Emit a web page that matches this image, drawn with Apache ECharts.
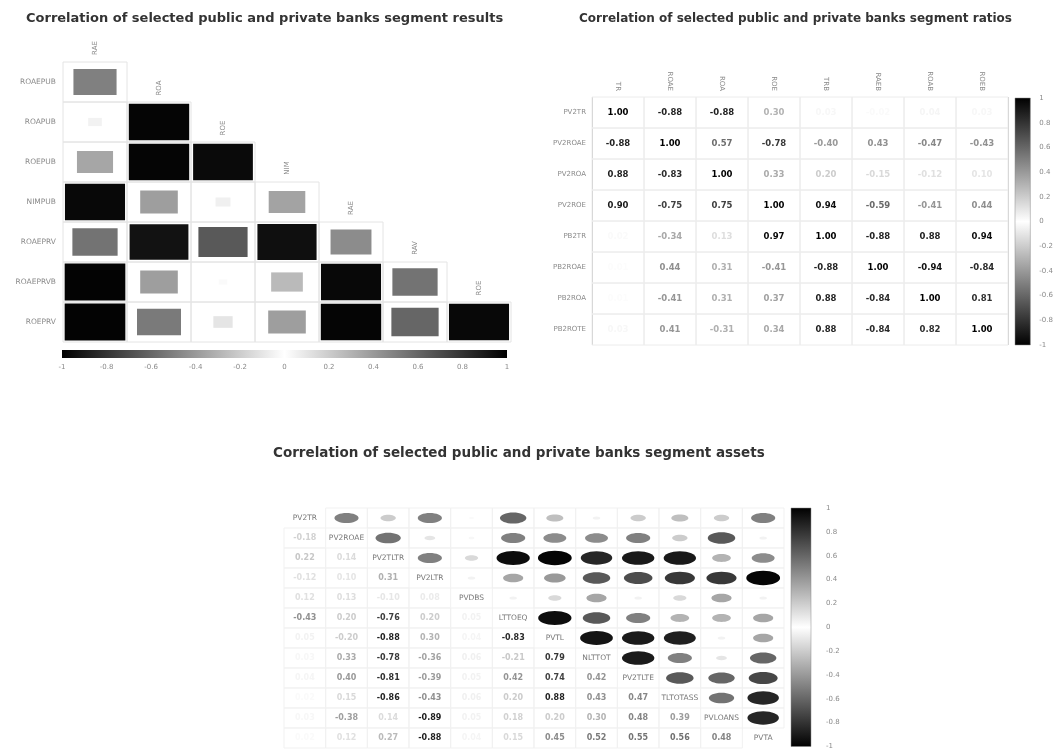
<!DOCTYPE html>
<html>
<head>
<meta charset="utf-8">
<script src="https://cdn.jsdelivr.net/npm/echarts@6/dist/echarts.min.js"></script>
<style>
  html, body { margin: 0; padding: 0; background: #ffffff; }
  #main { width: 1056px; height: 750px; }
</style>
</head>
<body>
<div id="main"></div>
<script>
// ---------- Segment results: lower-triangle square plot ----------
const retNames = ['ROAEPUB', 'ROAPUB', 'ROEPUB', 'NIMPUB', 'ROAEPRV', 'ROAEPRVB', 'ROEPRV'];
const retTags = ['RAE', 'ROA', 'ROE', 'NIM', 'RAE', 'RAV', 'ROE'];
// row i holds correlations with columns 0..i
const retCorr = [
  [0.50],
  [0.05, -0.98],
  [0.35, -0.98, 0.96],
  [-0.97, 0.38, 0.06, 0.36],
  [0.55, -0.93, 0.65, -0.94, 0.45],
  [-0.99, 0.38, 0.02, 0.27, 0.97, 0.55],
  [-0.99, 0.52, 0.10, 0.38, 0.98, 0.60, 0.97]
];

// ---------- Segment ratios: numeric matrix ----------
const ratioRows = ['PV2TR', 'PV2ROAE', 'PV2ROA', 'PV2ROE', 'PB2TR', 'PB2ROAE', 'PB2ROA', 'PB2ROTE'];
const ratioCols = ['TR', 'ROAE', 'ROA', 'ROE', 'TRB', 'RAEB', 'ROAB', 'ROEB'];
const ratioCorr = [
  [1.00, -0.88, -0.88, 0.30, 0.03, -0.02, 0.04, 0.03],
  [-0.88, 1.00, 0.57, -0.78, -0.40, 0.43, -0.47, -0.43],
  [0.88, -0.83, 1.00, 0.33, 0.20, -0.15, -0.12, 0.10],
  [0.90, -0.75, 0.75, 1.00, 0.94, -0.59, -0.41, 0.44],
  [0.02, -0.34, 0.13, 0.97, 1.00, -0.88, 0.88, 0.94],
  [0.01, 0.44, 0.31, -0.41, -0.88, 1.00, -0.94, -0.84],
  [0.01, -0.41, 0.31, 0.37, 0.88, -0.84, 1.00, 0.81],
  [0.03, 0.41, -0.31, 0.34, 0.88, -0.84, 0.82, 1.00]
];

// ---------- Segment assets: ellipses above, numbers below ----------
const assetNames = ['PV2TR', 'PV2ROAE', 'PV2TLTR', 'PV2LTR', 'PVDBS', 'LTTOEQ', 'PVTL', 'NLTTOT', 'PV2TLTE', 'TLTOTASS', 'PVLOANS', 'PVTA'];
const assetCorr = [
  [null, 0.50, 0.20, 0.50, 0.02, 0.60, 0.25, 0.05, 0.20, 0.25, -0.20, 0.50],
  [-0.18, null, 0.55, 0.10, 0.03, 0.50, -0.45, 0.45, 0.50, 0.20, 0.65, 0.05],
  [0.22, 0.14, null, 0.50, 0.15, -0.95, -0.98, -0.85, -0.90, -0.90, 0.30, 0.45],
  [-0.12, 0.10, 0.31, null, 0.05, 0.35, 0.40, -0.65, -0.70, -0.78, -0.78, -0.98],
  [0.12, 0.13, -0.10, 0.08, null, 0.05, 0.15, 0.35, 0.05, 0.15, 0.35, 0.05],
  [-0.43, 0.20, -0.76, 0.20, 0.05, null, -0.95, 0.65, 0.50, 0.30, 0.30, 0.35],
  [0.05, -0.20, -0.88, 0.30, 0.04, -0.83, null, 0.92, 0.90, 0.88, 0.05, 0.35],
  [0.03, 0.33, -0.78, -0.36, 0.06, -0.21, 0.79, null, 0.90, 0.50, 0.10, 0.60],
  [0.04, 0.40, -0.81, -0.39, 0.05, 0.42, 0.74, 0.42, null, 0.65, 0.60, 0.72],
  [0.02, 0.15, -0.86, -0.43, 0.06, 0.20, 0.88, 0.43, 0.47, null, 0.55, 0.85],
  [0.03, -0.38, 0.14, -0.89, 0.05, 0.18, 0.20, 0.30, 0.48, 0.39, null, 0.85],
  [0.02, 0.12, 0.27, -0.88, 0.04, 0.15, 0.45, 0.52, 0.55, 0.56, 0.48, null]
];
// column / row boundaries drawn as darker separators in the assets plot
const assetBreaks = [2, 3, 4, 7, 8, 11];
const assetRowBreaks = [8];

const scaleTicks = [-1, -0.8, -0.6, -0.4, -0.2, 0, 0.2, 0.4, 0.6, 0.8, 1];

// ---------- build series data ----------
const retData = [];
retCorr.forEach((row, i) => row.forEach((v, j) => retData.push([j, i + 1, v])));
const retTagData = retTags.map((t, j) => [j, j, t]);

const ratioData = [];
ratioCorr.forEach((row, i) => row.forEach((v, j) => ratioData.push([j, i, v])));

const ellipseData = [], numberData = [], diagData = [];
assetCorr.forEach((row, i) => row.forEach((v, j) => {
  if (i === j) diagData.push([j, i, assetNames[i]]);
  else if (j > i) ellipseData.push([j, i, v]);
  else numberData.push([j, i, v]);
}));

const FONT = 'DejaVu Sans';
const LABEL_GRAY = '#8a8a8a';
const barGradient = (horizontal) => ({
  type: 'linear', x: 0, y: 0, x2: horizontal ? 1 : 0, y2: horizontal ? 0 : 1,
  colorStops: [
    { offset: 0, color: '#000000' },
    { offset: 0.5, color: '#ffffff' },
    { offset: 1, color: '#000000' }
  ]
});
const fmt = (v) => v.toFixed(2);
const tickFmt = (v) => String(Math.round(v * 10) / 10);
const scaleAxisLabel = (margin) => ({
  fontFamily: FONT, fontSize: 7, color: LABEL_GRAY, margin: margin,
  formatter: (v) => scaleTicks.includes(Math.round(v * 10) / 10) ? tickFmt(v) : ''
});

const chart = echarts.init(document.getElementById('main'), null, { renderer: 'canvas' });

const option = {
  backgroundColor: '#ffffff',
  animation: false,
  title: [
    { text: 'Correlation of selected public and private banks segment results', left: 21, top: 7,
      textStyle: { fontFamily: FONT, fontSize: 13, fontWeight: 'bold', color: '#333' } },
    { text: 'Correlation of selected public and private banks segment ratios', left: 574, top: 8,
      textStyle: { fontFamily: FONT, fontSize: 12, fontWeight: 'bold', color: '#333' } },
    { text: 'Correlation of selected public and private banks segment assets', left: 268, top: 441,
      textStyle: { fontFamily: FONT, fontSize: 13.5, fontWeight: 'bold', color: '#333' } }
  ],
  visualMap: [{
    type: 'continuous', show: false, min: -1, max: 1, dimension: 2,
    seriesIndex: [0, 3, 6, 7],
    inRange: { color: ['#000000', '#ffffff', '#000000'] }
  }],
  grid: [
    { left: 63, top: 22, width: 448, height: 320 },
    { left: 62, top: 350, width: 445, height: 8 },
    { left: 592, top: 97, width: 416, height: 248 },
    { left: 1015, top: 98, width: 16, height: 247 },
    { left: 284, top: 508, width: 500, height: 240 },
    { left: 791, top: 508, width: 20, height: 240 }
  ],
  xAxis: [
    { gridIndex: 0, type: 'category', data: retTags, show: false },
    { gridIndex: 1, type: 'value', min: -1, max: 1, interval: 0.2,
      axisLine: { show: false }, axisTick: { show: false }, splitLine: { show: false },
      axisLabel: scaleAxisLabel(6) },
    { gridIndex: 2, type: 'category', data: ratioCols, position: 'top',
      axisLine: { show: false }, axisTick: { show: false },
      axisLabel: { rotate: 90, fontFamily: FONT, fontSize: 7, color: LABEL_GRAY, margin: 6 },
      splitLine: { show: true, interval: (i) => i === 3, lineStyle: { color: '#c4c4c4', width: 1 } } },
    { gridIndex: 3, type: 'category', data: ['scale'], show: false },
    { gridIndex: 4, type: 'category', data: assetNames, show: false,
      splitLine: { show: true, interval: (i) => assetBreaks.includes(i), lineStyle: { color: '#c8c8c8', width: 1 } } },
    { gridIndex: 5, type: 'category', data: ['scale'], show: false }
  ],
  yAxis: [
    { gridIndex: 0, type: 'category', inverse: true, data: [''].concat(retNames),
      axisLine: { show: false }, axisTick: { show: false },
      axisLabel: { fontFamily: FONT, fontSize: 7.5, color: LABEL_GRAY, margin: 7 } },
    { gridIndex: 1, type: 'category', data: ['scale'], show: false },
    { gridIndex: 2, type: 'category', inverse: true, data: ratioRows,
      axisLine: { show: false }, axisTick: { show: false },
      axisLabel: { fontFamily: FONT, fontSize: 7, color: LABEL_GRAY, margin: 6 } },
    { gridIndex: 3, type: 'value', min: -1, max: 1, interval: 0.2, position: 'right',
      axisLine: { show: false }, axisTick: { show: false }, splitLine: { show: false },
      axisLabel: scaleAxisLabel(9) },
    { gridIndex: 4, type: 'category', inverse: true, data: assetNames, show: false,
      splitLine: { show: true, interval: (i) => assetRowBreaks.includes(i), lineStyle: { color: '#c8c8c8', width: 1 } } },
    { gridIndex: 5, type: 'value', min: -1, max: 1, interval: 0.2, position: 'right',
      axisLine: { show: false }, axisTick: { show: false }, splitLine: { show: false },
      axisLabel: scaleAxisLabel(15) }
  ],
  series: [
    // 0: square cells, size and shade from the correlation
    {
      type: 'custom', xAxisIndex: 0, yAxisIndex: 0, data: retData,
      renderItem: (params, api) => {
        const c = api.coord([api.value(0), api.value(1)]);
        const sz = api.size([1, 1]);
        const s = Math.sqrt(Math.abs(api.value(2)));
        const w = (sz[0] - 3) * s, h = (sz[1] - 3) * s;
        return { type: 'group', children: [
          { type: 'rect', shape: { x: c[0] - sz[0] / 2, y: c[1] - sz[1] / 2, width: sz[0], height: sz[1] },
            style: { fill: 'none', stroke: '#e4e4e4', lineWidth: 1 } },
          { type: 'rect', shape: { x: c[0] - w / 2, y: c[1] - h / 2, width: w, height: h },
            style: { fill: api.visual('color') } }
        ] };
      }
    },
    // 1: column tags along the diagonal
    {
      type: 'custom', xAxisIndex: 0, yAxisIndex: 0, data: retTagData,
      renderItem: (params, api) => {
        const c = api.coord([api.value(0), api.value(1)]);
        return { type: 'text', x: c[0], y: c[1] + 6, rotation: Math.PI / 2,
          style: { text: retTags[params.dataIndex], fill: LABEL_GRAY, font: '7px ' + FONT,
            align: 'center', verticalAlign: 'middle' } };
      }
    },
    // 2: horizontal colour scale
    {
      type: 'custom', xAxisIndex: 1, yAxisIndex: 1, data: [[0, 0]],
      renderItem: (params) => {
        const cs = params.coordSys;
        return { type: 'rect', shape: { x: cs.x, y: cs.y, width: cs.width, height: cs.height },
          style: { fill: barGradient(true) } };
      }
    },
    // 3: numeric matrix
    {
      type: 'custom', xAxisIndex: 2, yAxisIndex: 2, data: ratioData,
      renderItem: (params, api) => {
        const c = api.coord([api.value(0), api.value(1)]);
        const sz = api.size([1, 1]);
        return { type: 'group', children: [
          { type: 'rect', shape: { x: c[0] - sz[0] / 2, y: c[1] - sz[1] / 2, width: sz[0], height: sz[1] },
            style: { fill: 'none', stroke: '#ececec', lineWidth: 1 } },
          { type: 'text', x: c[0], y: c[1],
            style: { text: fmt(api.value(2)), fill: api.visual('color'), font: 'bold 8.5px ' + FONT,
              align: 'center', verticalAlign: 'middle' } }
        ] };
      }
    },
    // 4: vertical colour scale for the numeric matrix
    {
      type: 'custom', xAxisIndex: 3, yAxisIndex: 3, data: [[0, 0]],
      renderItem: (params) => {
        const cs = params.coordSys;
        return { type: 'rect', shape: { x: cs.x, y: cs.y, width: cs.width, height: cs.height },
          style: { fill: barGradient(false), stroke: '#888', lineWidth: 0.5 } };
      }
    },
    // 5: vertical colour scale for the assets plot
    {
      type: 'custom', xAxisIndex: 5, yAxisIndex: 5, data: [[0, 0]],
      renderItem: (params) => {
        const cs = params.coordSys;
        return { type: 'rect', shape: { x: cs.x, y: cs.y, width: cs.width, height: cs.height },
          style: { fill: barGradient(false), stroke: '#888', lineWidth: 0.5 } };
      }
    },
    // 6: ellipses above the diagonal
    {
      type: 'custom', xAxisIndex: 4, yAxisIndex: 4, data: ellipseData,
      renderItem: (params, api) => {
        const c = api.coord([api.value(0), api.value(1)]);
        const sz = api.size([1, 1]);
        const s = Math.sqrt(Math.abs(api.value(2)));
        return { type: 'group', children: [
          { type: 'rect', shape: { x: c[0] - sz[0] / 2, y: c[1] - sz[1] / 2, width: sz[0], height: sz[1] },
            style: { fill: 'none', stroke: '#f1f1f1', lineWidth: 1 } },
          { type: 'ellipse', shape: { cx: c[0], cy: c[1], rx: sz[0] * 0.41 * s, ry: sz[1] * 0.36 * s },
            style: { fill: api.visual('color') } }
        ] };
      }
    },
    // 7: numbers below the diagonal
    {
      type: 'custom', xAxisIndex: 4, yAxisIndex: 4, data: numberData,
      renderItem: (params, api) => {
        const c = api.coord([api.value(0), api.value(1)]);
        const sz = api.size([1, 1]);
        return { type: 'group', children: [
          { type: 'rect', shape: { x: c[0] - sz[0] / 2, y: c[1] - sz[1] / 2, width: sz[0], height: sz[1] },
            style: { fill: 'none', stroke: '#f1f1f1', lineWidth: 1 } },
          { type: 'text', x: c[0], y: c[1],
            style: { text: fmt(api.value(2)), fill: api.visual('color'), font: 'bold 8px ' + FONT,
              align: 'center', verticalAlign: 'middle' } }
        ] };
      }
    },
    // 8: variable names on the diagonal
    {
      type: 'custom', xAxisIndex: 4, yAxisIndex: 4, data: diagData,
      renderItem: (params, api) => {
        const c = api.coord([api.value(0), api.value(1)]);
        return { type: 'text', x: c[0], y: c[1],
          style: { text: diagData[params.dataIndex][2], fill: '#777', font: '7.5px ' + FONT,
            align: 'center', verticalAlign: 'middle' } };
      }
    }
  ]
};

chart.setOption(option);
</script>
</body>
</html>
